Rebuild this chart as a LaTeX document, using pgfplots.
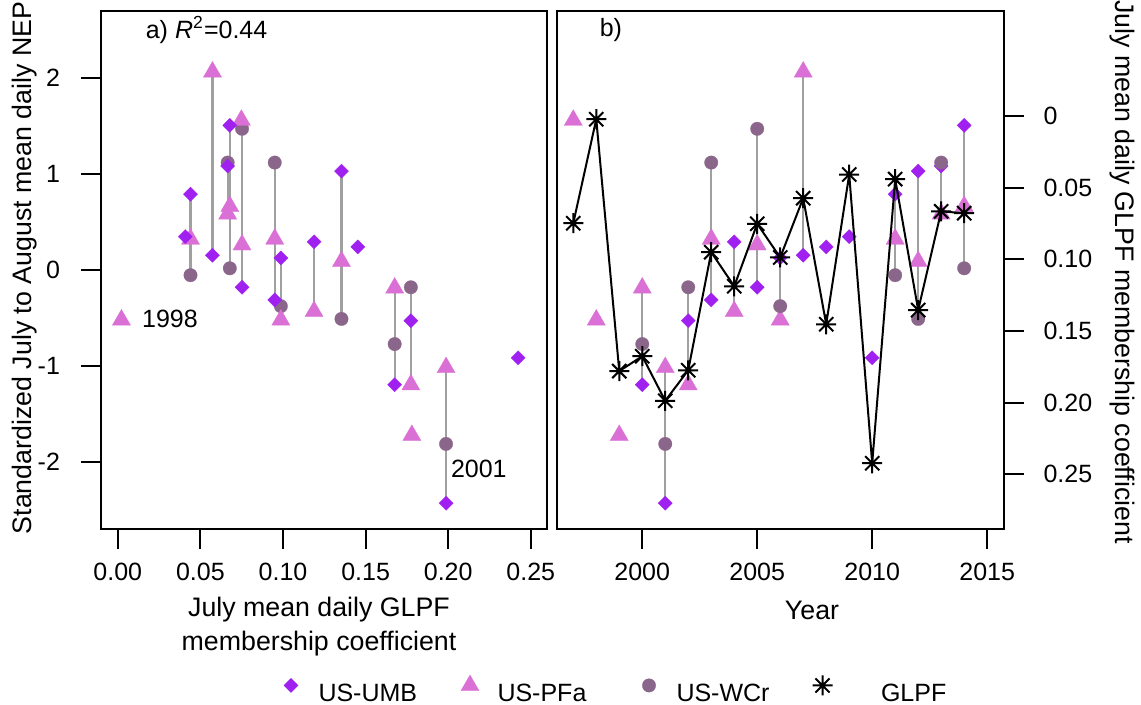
\documentclass[border=0pt]{standalone}
\usepackage{pgfplots}
\usepackage{pgfplotstable}
\pgfplotsset{compat=1.18}
\usepackage{fontspec}
\setmainfont{Liberation Sans}
\definecolor{umb}{HTML}{A020F0}
\definecolor{pfa}{HTML}{DA70D6}
\definecolor{wcr}{HTML}{8B668B}
\definecolor{segc}{HTML}{A0A0A0}
\pgfdeclareplotmark{pchstar}{%
  \pgfpathmoveto{\pgfqpoint{-\pgfplotmarksize}{0pt}}%
  \pgfpathlineto{\pgfqpoint{\pgfplotmarksize}{0pt}}%
  \pgfpathmoveto{\pgfqpoint{0pt}{-\pgfplotmarksize}}%
  \pgfpathlineto{\pgfqpoint{0pt}{\pgfplotmarksize}}%
  \pgfpathmoveto{\pgfqpoint{-0.7071\pgfplotmarksize}{-0.7071\pgfplotmarksize}}%
  \pgfpathlineto{\pgfqpoint{0.7071\pgfplotmarksize}{0.7071\pgfplotmarksize}}%
  \pgfpathmoveto{\pgfqpoint{-0.7071\pgfplotmarksize}{0.7071\pgfplotmarksize}}%
  \pgfpathlineto{\pgfqpoint{0.7071\pgfplotmarksize}{-0.7071\pgfplotmarksize}}%
  \pgfusepathqstroke}

\pgfplotstableread{
year g umb pfa wcr
1997 0.0748 nan 1.562 nan
1998 0.0022 nan -0.520 nan
1999 0.1780 nan -1.723 nan
2000 0.1676 -1.196 -0.187 -0.772
2001 0.1987 -2.431 -1.016 -1.813
2002 0.1774 -0.528 -1.196 -0.180
2003 0.0950 -0.312 0.323 1.120
2004 0.1188 0.294 -0.431 nan
2005 0.0752 -0.180 0.262 1.472
2006 0.0987 0.126 -0.520 -0.377
2007 0.0573 0.154 2.065 nan
2008 0.1453 0.241 nan nan
2009 0.0408 0.348 nan nan
2010 0.2423 -0.915 nan nan
2011 0.0440 0.790 0.323 -0.054
2012 0.1354 1.031 0.090 -0.510
2013 0.0665 1.084 0.585 1.120
2014 0.0678 1.508 0.664 0.018
}\data

\pgfplotsset{
  umbs/.style={only marks, color=umb, mark=square*, mark size=2pt, mark options={rotate=45, draw=umb, fill=umb, line width=0.1pt}},
  pfas/.style={only marks, color=pfa, mark=triangle*, mark size=4.2pt, mark options={draw=pfa, fill=pfa, line width=0.1pt}},
  wcrs/.style={only marks, color=wcr, mark=*, mark size=2.7pt, mark options={draw=wcr, fill=wcr, line width=0.1pt}},
  segs/.style={segc, line width=0.9pt, forget plot},
  base/.style={scale only axis, height=207.2pt, ymin=-2.7, ymax=2.7,
    tick align=outside, major tick length=8pt,
    xticklabel shift=2pt, yticklabel shift=5pt,
    axis line style={line width=0.8pt}, tick style={line width=0.8pt, black},
    /pgf/number format/assume math mode=true},
}
\newcommand\seg[3]{\addplot[segs] coordinates {(#1,#2) (#1,#3)};}
\newcommand\titlefont{\fontsize{10.7pt}{13pt}\selectfont}

\begin{document}
\begin{tikzpicture}
\useasboundingbox (0,0) rectangle (456.4pt,-281.6pt);

% ---------- panel a ----------
\begin{axis}[base, at={(40.52pt,-4.4pt)}, anchor=north west, width=178.4pt,
  xmin=-0.01, xmax=0.26,
  xtick={0,0.05,0.1,0.15,0.2,0.25}, ytick={-2,-1,0,1,2},
  xtick pos=bottom, ytick pos=left,
  xticklabel style={/pgf/number format/fixed, /pgf/number format/fixed zerofill, /pgf/number format/precision=2},
]
\seg{0.1676}{-1.196}{-0.187}
\seg{0.1987}{-2.431}{-1.016}
\seg{0.1774}{-1.196}{-0.180}
\seg{0.0950}{-0.312}{1.120}
\seg{0.1188}{-0.431}{0.294}
\seg{0.0752}{-0.180}{1.472}
\seg{0.0987}{-0.520}{0.126}
\seg{0.0573}{0.154}{2.065}
\seg{0.0440}{-0.054}{0.790}
\seg{0.1354}{-0.510}{1.031}
\seg{0.0665}{0.585}{1.120}
\seg{0.0678}{0.018}{1.508}
\addplot[wcrs] table[x=g, y=wcr] {\data};
\addplot[pfas] table[x=g, y=pfa] {\data};
\addplot[umbs] table[x=g, y=umb] {\data};
\end{axis}

% ---------- panel b, NEP scale ----------
\begin{axis}[base, at={(222.68pt,-4.4pt)}, anchor=north west, width=178.8pt,
  xmin=1996.28, xmax=2015.72,
  xtick={2000,2005,2010,2015}, ytick=\empty,
  xtick pos=bottom,
  /pgf/number format/1000 sep={},
  legend columns=4, legend cell align=left,
  legend style={draw=none, fill=none, at={(-0.6246,-0.3108)}, anchor=west,
    inner sep=0pt, nodes={inner sep=0pt}},
  legend image code/.code={\path (-5pt,3.6pt) (5pt,3.6pt); \draw[#1] plot coordinates {(0pt,3.6pt)};},
]
\seg{2000}{-1.196}{-0.187}
\seg{2001}{-2.431}{-1.016}
\seg{2002}{-1.196}{-0.180}
\seg{2003}{-0.312}{1.120}
\seg{2004}{-0.431}{0.294}
\seg{2005}{-0.180}{1.472}
\seg{2006}{-0.520}{0.126}
\seg{2007}{0.154}{2.065}
\seg{2011}{-0.054}{0.790}
\seg{2012}{-0.510}{1.031}
\seg{2013}{0.585}{1.120}
\seg{2014}{0.018}{1.508}
\addplot[umbs, forget plot] table[x=year, y=umb] {\data};
\addplot[pfas, forget plot] table[x=year, y=pfa] {\data};
\addplot[wcrs, forget plot] table[x=year, y=wcr] {\data};
\addlegendimage{umbs}
\addlegendentry{\makebox[61.2pt][l]{\hspace{5.8pt}US-UMB}}
\addlegendimage{pfas}
\addlegendentry{\makebox[61.2pt][l]{\hspace{5.8pt}US-PFa}}
\addlegendimage{wcrs}
\addlegendentry{\makebox[59pt][l]{\hspace{5.8pt}US-WCr}}
\addlegendimage{only marks, black, mark=pchstar, mark size=4pt, mark options={line width=0.8pt}}
\addlegendentry{\hspace{18.2pt}GLPF}
\end{axis}

% ---------- panel b, GLPF scale ----------
\begin{axis}[scale only axis, at={(222.68pt,-4.4pt)}, anchor=north west,
  width=178.8pt, height=207.2pt,
  xmin=1996.28, xmax=2015.72, ymin=-0.0733, ymax=0.2882, y dir=reverse,
  hide x axis, axis y line*=right,
  tick align=outside, major tick length=8pt, yticklabel shift=4.4pt,
  axis line style={line width=0.8pt}, tick style={line width=0.8pt, black},
  ytick={0,0.05,0.1,0.15,0.2,0.25},
  yticklabels={0,0.05,0.10,0.15,0.20,0.25},
]
\addplot[black, line width=0.8pt, mark=pchstar, mark size=4pt, mark options={line width=0.8pt}] table[x=year, y=g] {\data};
\end{axis}

% ---------- text ----------
\begin{scope}[x=0.4pt, y=-0.4pt]
\node[rotate=90, font=\titlefont] at (25,268) {Standardized July to August mean daily NEP};
\node[rotate=-90, font=\titlefont] at (1122,272) {July mean daily GLPF membership coefficient};
\node[align=center, font=\titlefont] at (319,627) {July mean daily GLPF\\[0.6pt]membership coefficient};
\node[font=\titlefont] at (812,610) {Year};
\node[anchor=west] at (137,30) {a) \textit{R}\textsuperscript{2}=0.44};
\node[anchor=west] at (591,30) {b)};
\node[anchor=west, inner sep=0pt] at (141.6,319) {1998};
\node[anchor=west, inner sep=0pt] at (450.5,469) {2001};
\end{scope}
\end{tikzpicture}
\end{document}
